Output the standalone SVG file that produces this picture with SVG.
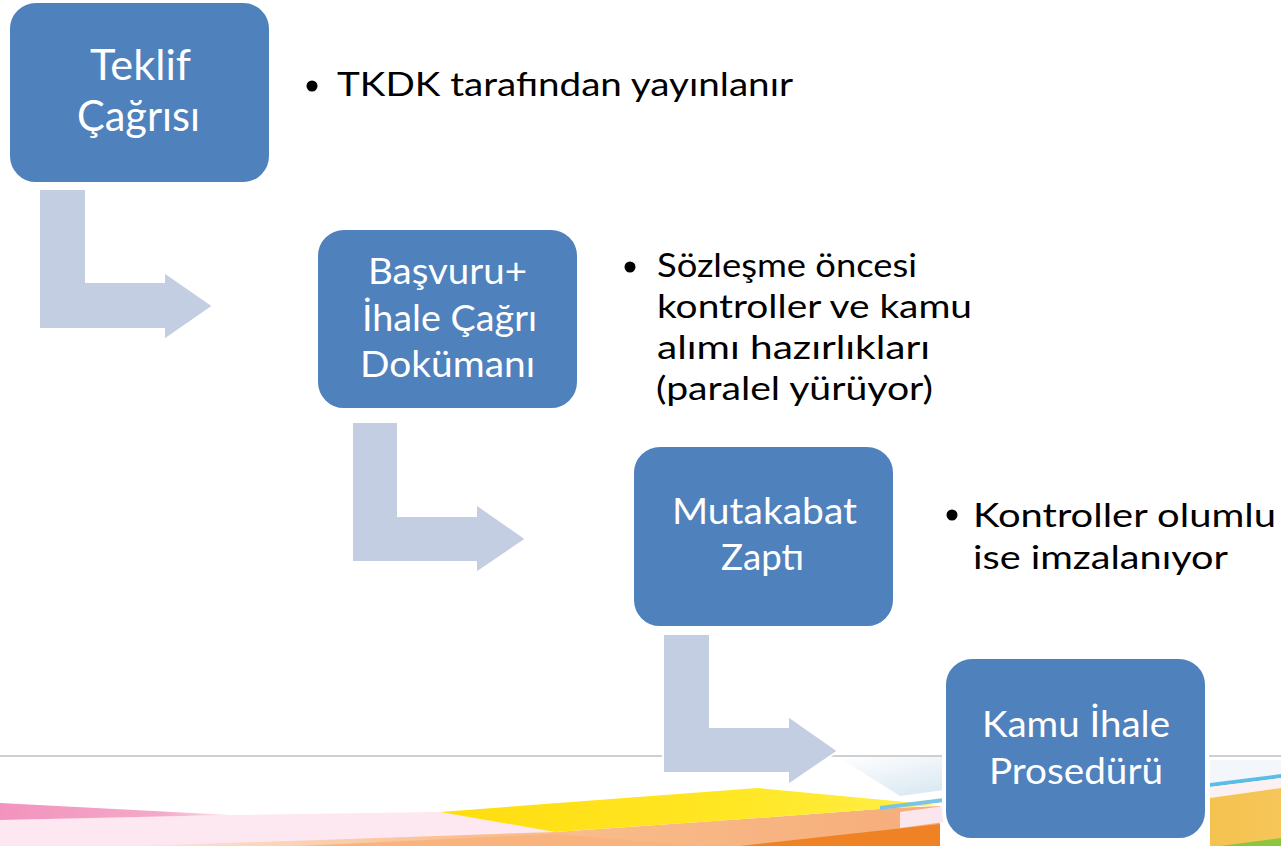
<svg xmlns="http://www.w3.org/2000/svg" width="1281" height="846" viewBox="0 0 1281 846">
<style>
.box{fill:#4f81bd;stroke:#ffffff;stroke-width:4}
.arr{fill:#c4cee2;stroke:#ffffff;stroke-width:2}
.bt{font-family:Lato,"Open Sans",sans-serif;font-weight:400;fill:#ffffff;font-size:37px}
.bt1{font-size:42px}
.tx{font-family:Lato,"Open Sans",sans-serif;font-weight:400;fill:#000000;font-size:33.5px}
.dot{fill:#000000}
</style>
<defs>
<linearGradient id="pinkG" x1="0" y1="0" x2="1" y2="0">
<stop offset="0" stop-color="#f293bd"/><stop offset="0.7" stop-color="#f5a9c9"/><stop offset="1" stop-color="#fbe0ec"/>
</linearGradient>
<linearGradient id="yelG" x1="0" y1="0" x2="1" y2="0">
<stop offset="0" stop-color="#ffdd10"/><stop offset="0.6" stop-color="#ffe724"/><stop offset="1" stop-color="#fff04a"/>
</linearGradient>
<linearGradient id="peachG" x1="0" y1="0" x2="1" y2="0">
<stop offset="0" stop-color="#fde3d6"/><stop offset="0.4" stop-color="#f9c08f"/><stop offset="1" stop-color="#f6ad7a"/>
</linearGradient>
<linearGradient id="hazeG" x1="0" y1="0" x2="1" y2="1">
<stop offset="0" stop-color="#ffffff"/><stop offset="1" stop-color="#cfe1ee"/>
</linearGradient>
<linearGradient id="rightG" x1="0" y1="0" x2="1" y2="0">
<stop offset="0" stop-color="#f4c24e"/><stop offset="1" stop-color="#f6c65a"/>
</linearGradient>
</defs>
<g id="background">
<rect x="0" y="0" width="1281" height="846" fill="#ffffff"/>
<polygon points="0,820 230,815 440,812 555,832 300,846 0,846" fill="#fde7f0"/>
<polygon points="0,803 230,815 0,820" fill="url(#pinkG)"/>
<polygon points="140,846 555,832 758,818 893,808 940,806 940,846" fill="url(#peachG)"/>
<polygon points="300,846 555,834 700,846" fill="#f8b37e"/>
<polygon points="740,846 940,824 940,846" fill="#f08226"/>
<polygon points="440,812 758,788 937,805 893,808 758,818 555,832" fill="url(#yelG)"/>
<polygon points="838,757 1000,757 944,790 900,796" fill="url(#hazeG)"/>
<polygon points="880,806 944,798 944,802 880,810" fill="#7cc4e6"/>
<polygon points="900,812 944,806 944,822 900,828" fill="#fbe6ee"/>
<polygon points="1210,760 1281,760 1281,774 1210,783" fill="#f3f7fb"/>
<polygon points="1210,783 1281,774 1281,778 1210,787" fill="#5bbde6"/>
<polygon points="1210,787 1281,778 1281,788 1210,798" fill="#fbf0f2"/>
<polygon points="1210,798 1281,788 1281,846 1210,846" fill="url(#rightG)"/>
<polygon points="1220,846 1281,838 1281,846" fill="#8cc63e"/>
<line x1="0" y1="756" x2="1281" y2="756" stroke="#bfbfbf" stroke-width="1.5"/>
</g>
<g id="connectors">
<polygon class="arr" points="39,189 86,189 86,282 164,282 164,272 213,306 164,340 164,329 39,329"/>
<polygon class="arr" points="352,422 398,422 398,516 476,516 476,504 526,539 476,573 476,562 352,562"/>
<polygon class="arr" points="663,634 710,634 710,727 788,727 788,716 838,751 788,785 788,773 663,773"/>
</g>
<g id="node-teklif">
<rect class="box" x="8" y="1" width="263" height="183" rx="28"/>
<text class="bt bt1" x="90" y="80" textLength="101" lengthAdjust="spacingAndGlyphs">Teklif</text>
<text class="bt bt1" x="77" y="131" textLength="123" lengthAdjust="spacingAndGlyphs">Çağrısı</text>
</g>
<g id="node-basvuru">
<rect class="box" x="316" y="228" width="263" height="182" rx="28"/>
<text class="bt" x="368" y="284" textLength="159" lengthAdjust="spacingAndGlyphs">Başvuru+</text>
<text class="bt" x="362" y="331" textLength="175" lengthAdjust="spacingAndGlyphs">İhale Çağrı</text>
<text class="bt" x="360" y="377" textLength="175" lengthAdjust="spacingAndGlyphs">Dokümanı</text>
</g>
<g id="node-mutakabat">
<rect class="box" x="632" y="445" width="263" height="183" rx="28"/>
<text class="bt" x="672" y="524" textLength="185" lengthAdjust="spacingAndGlyphs">Mutakabat</text>
<text class="bt" x="721" y="570" textLength="83" lengthAdjust="spacingAndGlyphs">Zaptı</text>
</g>
<g id="node-kamu">
<rect class="box" x="944" y="657" width="263" height="183" rx="28"/>
<text class="bt" x="982" y="737" textLength="188" lengthAdjust="spacingAndGlyphs">Kamu İhale</text>
<text class="bt" x="989" y="784" textLength="174" lengthAdjust="spacingAndGlyphs">Prosedürü</text>
</g>
<g id="note-1">
<circle class="dot" cx="312" cy="86" r="5.5"/>
<text class="tx" x="337" y="96" textLength="456" lengthAdjust="spacingAndGlyphs">TKDK tarafından yayınlanır</text>
</g>
<g id="note-2">
<circle class="dot" cx="630" cy="267" r="5.5"/>
<text class="tx" x="657" y="277" textLength="260" lengthAdjust="spacingAndGlyphs">Sözleşme öncesi</text>
<text class="tx" x="657" y="318" textLength="315" lengthAdjust="spacingAndGlyphs">kontroller ve kamu</text>
<text class="tx" x="657" y="359" textLength="273" lengthAdjust="spacingAndGlyphs">alımı hazırlıkları</text>
<text class="tx" x="656" y="400" textLength="277" lengthAdjust="spacingAndGlyphs">(paralel yürüyor)</text>
</g>
<g id="note-3">
<circle class="dot" cx="952" cy="515" r="5.5"/>
<text class="tx" x="973" y="527" textLength="303" lengthAdjust="spacingAndGlyphs">Kontroller olumlu</text>
<text class="tx" x="973" y="569" textLength="255" lengthAdjust="spacingAndGlyphs">ise imzalanıyor</text>
</g>
</svg>
